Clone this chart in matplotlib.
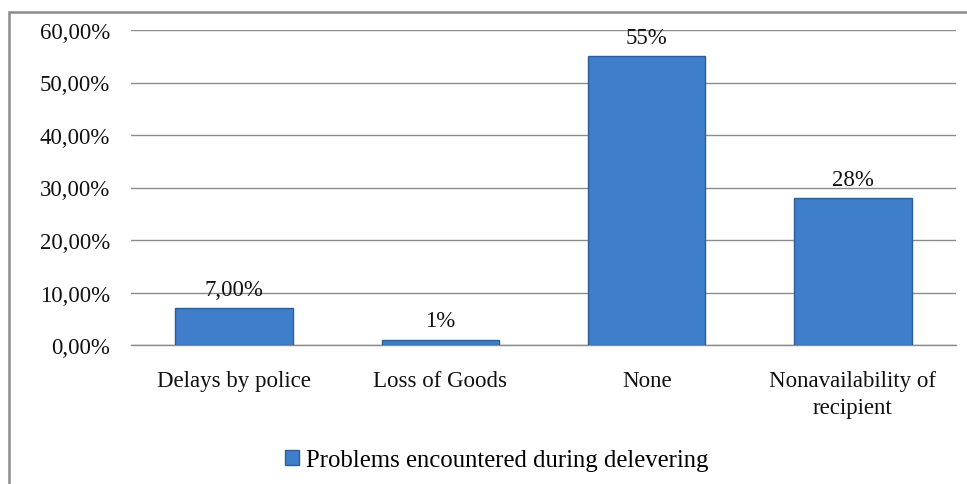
import matplotlib.pyplot as plt
import matplotlib.patches as mpatches
import numpy as np

categories = ["Delays by police", "Loss of Goods", "None", "Nonavailability of\nrecipient"]
values = [7, 1, 55, 28]
value_labels = ["7,00%", "1%", "55%", "28%"]
yticks = [0, 10, 20, 30, 40, 50, 60]
ytick_labels = ["0,00%", "10,00%", "20,00%", "30,00%", "40,00%", "50,00%", "60,00%"]
series_name = "Problems encountered during delevering"

plt.rcParams['font.family'] = ['Liberation Serif', 'DejaVu Serif']
FS = 16.5

W, H = 967, 485
fig = plt.figure(figsize=(W / 100, H / 100), dpi=100)

# outer chart frame (cut off at right/bottom in the reference)
fig.patches.append(mpatches.Rectangle((9 / W, -0.05), 1.1, 1 - 13 / H + 0.05,
                                      transform=fig.transFigure, fill=False,
                                      edgecolor='#8c8c8c', linewidth=1.8))

ax = fig.add_axes([131 / W, 1 - 346 / H, (956 - 131) / W, (346 - 31) / H])
x = np.arange(len(categories))
ax.bar(x, values, width=0.57, color='#3F7ECB', edgecolor='#2D5E98', linewidth=1.0, zorder=3)

for xi, v, lab in zip(x, values, value_labels):
    ax.text(xi, v + 1.6, lab, ha='center', va='bottom', fontsize=FS, color='#111111')

ax.set_xlim(-0.5, len(categories) - 0.5)
ax.set_ylim(0, 60)
ax.set_yticks(yticks)
ax.set_yticklabels(ytick_labels)
ax.set_xticks(x)
ax.set_xticklabels(categories, linespacing=1.35)
ax.tick_params(axis='both', length=0, labelsize=FS, colors='#111111')
ax.tick_params(axis='y', pad=15)
ax.tick_params(axis='x', pad=18)
ax.grid(axis='y', color='#8c8c8c', linewidth=1.0, zorder=0)
for s in ['top', 'right', 'left']:
    ax.spines[s].set_visible(False)
ax.spines['bottom'].set_color('#8c8c8c')
ax.spines['bottom'].set_linewidth(1.0)

handle = mpatches.Patch(facecolor='#3F7ECB', edgecolor='#2D5E98', label=series_name)
fig.legend(handles=[handle], loc='center', bbox_to_anchor=(497 / W, 1 - 461 / H),
           frameon=False, fontsize=17.8, handlelength=0.55, handleheight=0.55,
           handletextpad=0.3)

fig.savefig('out.png', dpi=100)
